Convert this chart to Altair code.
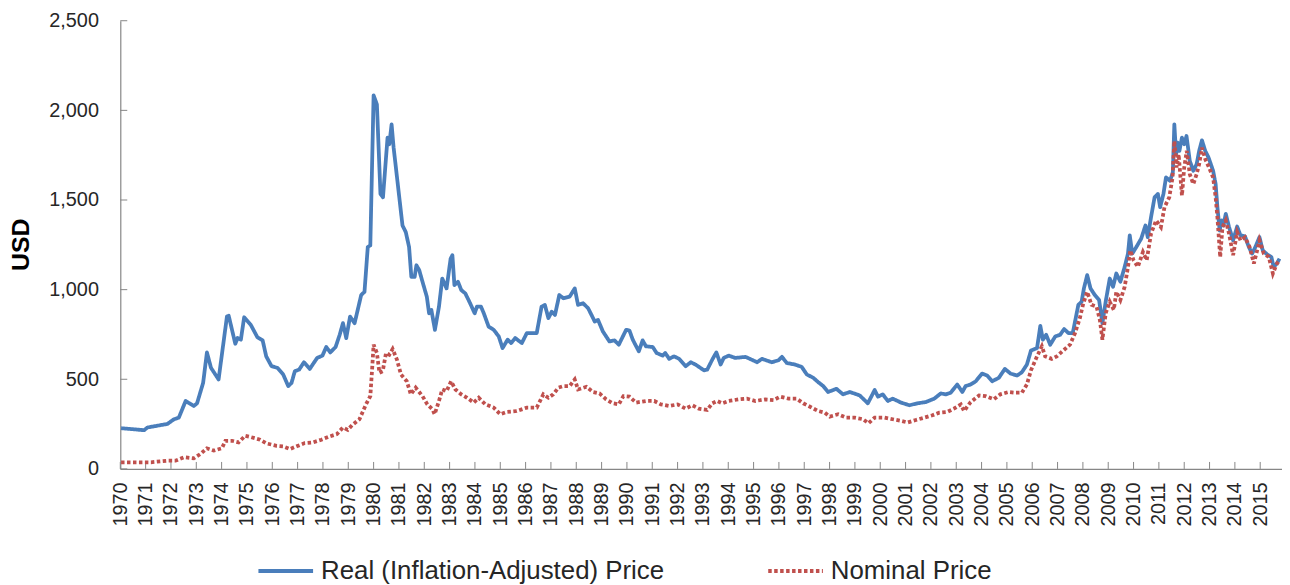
import altair as alt
import pandas as pd

# ---- data (decimal year, USD) ----
real_years = [1970.03, 1970.94, 1971.07, 1971.86, 1972.12, 1972.31, 1972.58, 1972.90, 1973.03, 1973.27,
              1973.42, 1973.58, 1973.88, 1974.21, 1974.28, 1974.54, 1974.63, 1974.76, 1974.89, 1975.15,
              1975.41, 1975.62, 1975.76, 1975.97, 1976.20, 1976.43, 1976.63, 1976.76, 1976.89, 1977.06,
              1977.25, 1977.48, 1977.77, 1977.98, 1978.13, 1978.29, 1978.50, 1978.66, 1978.79, 1978.92,
              1979.07, 1979.25, 1979.51, 1979.64, 1979.77, 1979.87, 1980.00, 1980.13, 1980.27, 1980.37,
              1980.55, 1980.62, 1980.71, 1980.79, 1981.14, 1981.27, 1981.40, 1981.49, 1981.62, 1981.69,
              1981.80, 1981.93, 1982.10, 1982.19, 1982.28, 1982.42, 1982.58, 1982.71, 1982.88, 1983.04,
              1983.11, 1983.19, 1983.33, 1983.46, 1983.62, 1983.80, 1983.99, 1984.08, 1984.24, 1984.35,
              1984.54, 1984.74, 1984.94, 1985.09, 1985.29, 1985.43, 1985.59, 1985.85, 1986.05, 1986.44,
              1986.63, 1986.76, 1986.90, 1987.03, 1987.16, 1987.33, 1987.49, 1987.74, 1987.94, 1988.07,
              1988.27, 1988.47, 1988.73, 1988.86, 1989.05, 1989.31, 1989.51, 1989.68, 1989.84, 1989.97,
              1990.10, 1990.23, 1990.47, 1990.62, 1990.75, 1991.02, 1991.17, 1991.41, 1991.51, 1991.67,
              1991.86, 1992.06, 1992.32, 1992.52, 1992.71, 1993.04, 1993.17, 1993.37, 1993.53, 1993.70,
              1993.82, 1994.02, 1994.28, 1994.68, 1995.14, 1995.33, 1995.72, 1995.98, 1996.12, 1996.31,
              1996.64, 1996.90, 1997.10, 1997.36, 1997.55, 1997.75, 1997.94, 1998.27, 1998.53, 1998.80,
              1999.19, 1999.51, 1999.78, 1999.91, 2000.10, 2000.30, 2000.49, 2000.82, 2001.15, 2001.47,
              2001.80, 2002.13, 2002.39, 2002.59, 2002.78, 2003.04, 2003.24, 2003.37, 2003.57, 2003.77,
              2004.02, 2004.22, 2004.42, 2004.68, 2004.92, 2005.14, 2005.40, 2005.59, 2005.79, 2005.95,
              2006.19, 2006.32, 2006.42, 2006.55, 2006.71, 2006.91, 2007.10, 2007.26, 2007.43, 2007.60,
              2007.82, 2007.95, 2008.04, 2008.17, 2008.30, 2008.47, 2008.64, 2008.77, 2008.91, 2009.06,
              2009.19, 2009.32, 2009.48, 2009.65, 2009.78, 2009.85, 2009.95, 2010.11, 2010.30, 2010.47,
              2010.56, 2010.69, 2010.83, 2010.96, 2011.05, 2011.18, 2011.28, 2011.44, 2011.55, 2011.61,
              2011.68, 2011.74, 2011.81, 2011.91, 2012.00, 2012.09, 2012.22, 2012.36, 2012.49, 2012.59,
              2012.70, 2012.83, 2012.96, 2013.14, 2013.24, 2013.31, 2013.40, 2013.48, 2013.55, 2013.64,
              2013.77, 2013.93, 2014.09, 2014.22, 2014.40, 2014.55, 2014.68, 2014.81, 2014.97, 2015.10,
              2015.27, 2015.44, 2015.53, 2015.66, 2015.76]
real_values = [227, 216, 231, 251, 277, 286, 379, 351, 366, 480,
               650, 564, 499, 850, 854, 698, 730, 721, 846, 804,
               735, 717, 628, 573, 564, 527, 462, 480, 545, 554,
               595, 558, 619, 632, 680, 650, 680, 748, 813, 730,
               850, 813, 970, 988, 1238, 1247, 2084, 2033, 1534, 1515,
               1848, 1811, 1922, 1792, 1358, 1321, 1238, 1071, 1071, 1136,
               1109, 1044, 961, 868, 887, 776, 905, 1062, 1007, 1173,
               1192, 1025, 1044, 998, 979, 927, 868, 905, 905, 868,
               794, 776, 739, 674, 721, 702, 730, 702, 758, 758,
               905, 915, 841, 877, 859, 970, 952, 961, 1007, 915,
               924, 896, 822, 831, 767, 711, 717, 693, 739, 776,
               772, 721, 656, 717, 684, 680, 647, 632, 647, 614,
               628, 614, 573, 595, 582, 550, 554, 610, 650, 582,
               619, 632, 619, 625, 595, 614, 595, 606, 625, 591,
               582, 569, 527, 508, 484, 462, 429, 447, 416, 429,
               410, 366, 440, 403, 416, 379, 392, 370, 355, 366,
               373, 392, 421, 416, 425, 471, 429, 462, 471, 489,
               532, 521, 489, 508, 558, 532, 521, 539, 582, 660,
               674, 798, 721, 748, 693, 739, 748, 780, 758, 758,
               915, 933, 1007, 1081, 1007, 970, 942, 813, 942, 1062,
               1016, 1090, 1044, 1127, 1201, 1303, 1201, 1238, 1284, 1358,
               1293, 1404, 1515, 1534, 1460, 1534, 1626, 1607, 1654, 1922,
               1755, 1820, 1774, 1848, 1811, 1857, 1718, 1663, 1700, 1774,
               1833, 1774, 1737, 1663, 1589, 1460, 1330, 1386, 1358, 1423,
               1349, 1275, 1352, 1303, 1297, 1238, 1201, 1238, 1293, 1219,
               1197, 1182, 1127, 1146, 1173]

nominal_years = [1970.03, 1971.21, 1971.86, 1972.18, 1972.51, 1972.90, 1973.16, 1973.42, 1973.69, 1974.01,
                 1974.15, 1974.41, 1974.67, 1974.93, 1975.12, 1975.52, 1975.78, 1976.17, 1976.43, 1976.70,
                 1976.96, 1977.28, 1977.61, 1977.94, 1978.26, 1978.55, 1978.79, 1978.98, 1979.15, 1979.44,
                 1979.70, 1979.87, 1979.94, 1980.00, 1980.13, 1980.23, 1980.36, 1980.49, 1980.62, 1980.75,
                 1980.92, 1981.08, 1981.31, 1981.47, 1981.66, 1981.93, 1982.12, 1982.32, 1982.41, 1982.58,
                 1982.71, 1982.88, 1983.06, 1983.23, 1983.46, 1983.69, 1983.95, 1984.15, 1984.41, 1984.74,
                 1985.00, 1985.26, 1985.65, 1986.05, 1986.44, 1986.70, 1986.90, 1987.09, 1987.29, 1987.49,
                 1987.74, 1987.94, 1988.07, 1988.40, 1988.66, 1988.92, 1989.18, 1989.44, 1989.68, 1989.86,
                 1990.10, 1990.36, 1990.75, 1991.08, 1991.34, 1991.67, 1992.00, 1992.32, 1992.58, 1992.84,
                 1993.17, 1993.37, 1993.56, 1993.76, 1994.02, 1994.41, 1994.74, 1995.07, 1995.46, 1995.79,
                 1996.05, 1996.38, 1996.70, 1996.96, 1997.23, 1997.55, 1997.81, 1998.01, 1998.34, 1998.66,
                 1998.99, 1999.32, 1999.54, 1999.78, 2000.17, 2000.49, 2000.82, 2001.08, 2001.41, 2001.74,
                 2002.06, 2002.33, 2002.65, 2002.91, 2003.18, 2003.31, 2003.57, 2003.90, 2004.16, 2004.48,
                 2004.74, 2005.07, 2005.33, 2005.59, 2005.79, 2005.95, 2006.19, 2006.38, 2006.51, 2006.77,
                 2006.97, 2007.23, 2007.49, 2007.69, 2007.88, 2008.01, 2008.17, 2008.34, 2008.54, 2008.67,
                 2008.77, 2008.90, 2009.06, 2009.22, 2009.32, 2009.48, 2009.65, 2009.78, 2009.87, 2010.00,
                 2010.17, 2010.37, 2010.52, 2010.69, 2010.89, 2011.08, 2011.22, 2011.41, 2011.54, 2011.61,
                 2011.70, 2011.78, 2011.91, 2012.00, 2012.10, 2012.22, 2012.36, 2012.49, 2012.59, 2012.70,
                 2012.83, 2012.98, 2013.14, 2013.24, 2013.31, 2013.42, 2013.51, 2013.64, 2013.77, 2013.93,
                 2014.09, 2014.22, 2014.40, 2014.58, 2014.75, 2014.88, 2014.97, 2015.14, 2015.34, 2015.50,
                 2015.66, 2015.76]
nominal_values = [37, 37, 46, 46, 65, 59, 83, 115, 102, 115,
                  157, 157, 148, 185, 179, 163, 142, 129, 126, 111,
                  126, 144, 148, 163, 181, 194, 231, 218, 244, 277,
                  360, 406, 554, 693, 647, 536, 545, 647, 637, 669,
                  610, 527, 489, 416, 453, 406, 360, 333, 305, 379,
                  443, 434, 489, 443, 416, 397, 370, 397, 360, 342,
                  305, 318, 323, 342, 342, 416, 397, 416, 453, 462,
                  462, 499, 443, 458, 429, 421, 388, 366, 360, 406,
                  403, 370, 379, 379, 360, 351, 360, 336, 355, 336,
                  329, 366, 379, 366, 379, 388, 392, 379, 388, 384,
                  403, 392, 392, 366, 347, 323, 314, 292, 305, 286,
                  286, 277, 255, 286, 286, 277, 268, 259, 273, 286,
                  299, 314, 318, 336, 360, 323, 373, 410, 406, 388,
                  416, 429, 425, 425, 471, 550, 628, 684, 628, 614,
                  628, 661, 693, 758, 841, 920, 988, 915, 905, 831,
                  721, 868, 933, 887, 988, 942, 1016, 1127, 1219, 1164,
                  1127, 1210, 1164, 1312, 1386, 1349, 1460, 1515, 1626, 1829,
                  1681, 1755, 1524, 1681, 1774, 1644, 1589, 1644, 1700, 1792,
                  1728, 1681, 1626, 1515, 1404, 1182, 1349, 1386, 1312, 1192,
                  1321, 1275, 1293, 1238, 1146, 1219, 1275, 1201, 1182, 1090,
                  1146, 1164]

year_ticks = list(range(1970, 2016))
usd_ticks = [0, 500, 1000, 1500, 2000, 2500]
series_names = ["Real (Inflation-Adjusted) Price", "Nominal Price"]
series_colors = ["#4A7EBB", "#C0504D"]

real_df = pd.DataFrame({"year": real_years, "price": real_values, "series": series_names[0]})
nom_df = pd.DataFrame({"year": nominal_years, "price": nominal_values, "series": series_names[1]})
xtick_df = pd.DataFrame({"year": year_ticks})
ytick_df = pd.DataFrame({"price": usd_ticks})

W, H = 1169, 451
FONT = "Liberation Sans"
AXIS_GREY = "#868686"
TEXT = "#262626"

x_scale = alt.Scale(domain=[1970, 2015.86], nice=False, zero=False)
y_scale = alt.Scale(domain=[0, 2500], nice=False, zero=True)
color_scale = alt.Scale(domain=series_names, range=series_colors)
dash_scale = alt.Scale(domain=series_names, range=[[1, 0], [3.5, 2.5]])

x_axis = alt.Axis(values=year_ticks, format="d", labelAngle=270, labelAlign="right",
                  labelBaseline="middle", labelPadding=13, ticks=False, tickSize=0, grid=False,
                  domainColor=AXIS_GREY, domainWidth=1.2, labelFont=FONT, labelFontSize=20,
                  labelColor=TEXT, labelOverlap=False, labelFlush=False, title=None)
y_axis = alt.Axis(values=usd_ticks, format=",d", labelPadding=22, ticks=False, tickSize=0,
                  grid=False, domainColor=AXIS_GREY, domainWidth=1.2, labelFont=FONT,
                  labelFontSize=20, labelColor=TEXT, labelBaseline="middle",
                  title="USD", titleFont=FONT, titleFontSize=25, titleFontWeight="bold",
                  titleColor="#000000", titleAngle=270, titleX=-100, titleY=225,
                  titleAlign="center", titleBaseline="middle")

legend = alt.Legend(title=None, orient="none", legendX=137, legendY=524, direction="horizontal",
                    symbolType="stroke", symbolSize=3025, symbolStrokeWidth=4,
                    labelFont=FONT, labelFontSize=26, labelColor=TEXT, labelLimit=0,
                    labelOffset=6, columnPadding=96, padding=0)

X = alt.X("year:Q", scale=x_scale, axis=x_axis)
Y = alt.Y("price:Q", scale=y_scale, axis=y_axis)
C = alt.Color("series:N", scale=color_scale, legend=legend)
D = alt.StrokeDash("series:N", scale=dash_scale, legend=legend)

xticks = alt.Chart(xtick_df).mark_rule(color=AXIS_GREY, strokeWidth=1).encode(
    x=X, y=alt.value(H - 7), y2=alt.value(H))
yticks = alt.Chart(ytick_df).mark_rule(color=AXIS_GREY, strokeWidth=1).encode(
    y=Y, x=alt.value(0), x2=alt.value(7))

real_line = alt.Chart(real_df).mark_line(strokeWidth=3.8, strokeJoin="round").encode(
    x=X, y=Y, color=C, strokeDash=D)
nom_line = alt.Chart(nom_df).mark_line(strokeWidth=3.8, strokeCap="butt").encode(
    x=X, y=Y, color=C, strokeDash=D)

chart = alt.layer(xticks, yticks, real_line, nom_line).properties(
    width=W, height=H,
    autosize=alt.AutoSizeParams(type="none"),
    padding={"left": 113, "top": 11, "right": 0, "bottom": 115},
    background="white",
).configure_view(stroke=None)

chart.save("out.html", embed_options={"renderer": "svg", "actions": False})
